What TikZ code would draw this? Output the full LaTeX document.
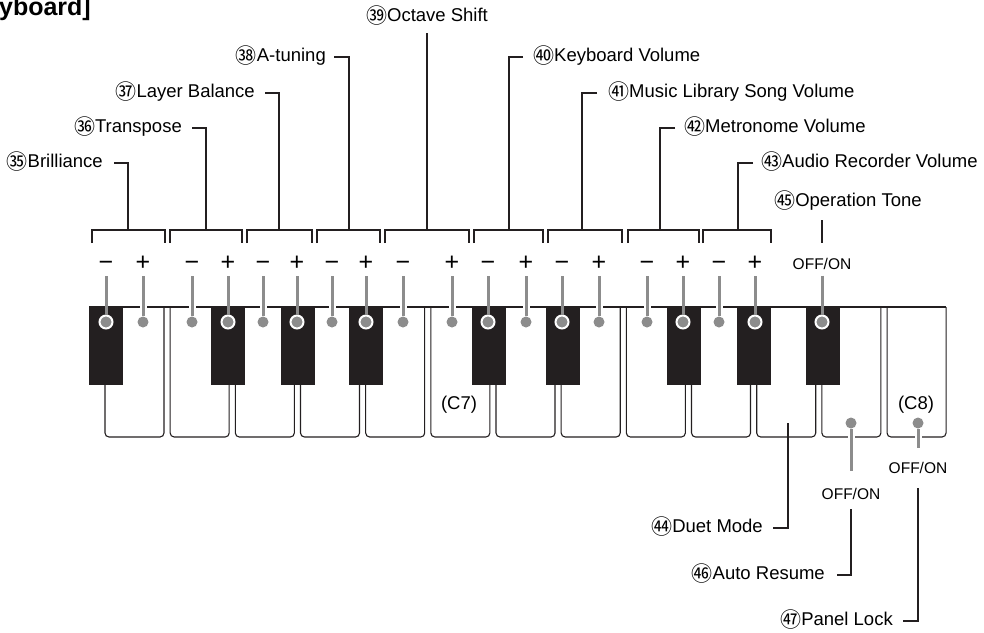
\documentclass[tikz,border=0pt]{standalone}
\usepackage{fontspec}
\setmainfont{Liberation Sans}
\newfontfamily\circfont{Noto Sans CJK JP}
\usepackage{tikz}
\usetikzlibrary{calc,positioning}
\definecolor{inkx}{HTML}{231F20}
\definecolor{grayx}{HTML}{8C8C8C}
\newcommand{\cnum}[1]{\raisebox{-1.5pt}{\circfont\fontsize{21}{21}\selectfont #1}}
\tikzset{
  wk/.style={draw=inkx,line width=1.1pt,rounded corners=4pt},
  bk/.style={fill=inkx},
  lead/.style={draw=inkx,line width=1.3pt},
  gl/.style={draw=grayx,line width=3pt},
  glw/.style={gl,preaction={draw=white,line width=7pt}},
  dw/.style={circle,fill=grayx,minimum size=11pt,inner sep=0pt},
  db/.style={circle,fill=grayx,draw=white,line width=2pt,minimum size=13pt,inner sep=0pt},
  lbl/.style={inner sep=0pt,font=\fontsize{18.5}{20}\selectfont,text height=13pt,text depth=4pt},
  sg/.style={inner sep=0pt,font=\fontsize{25}{25}\selectfont,text height=17pt,text depth=0pt},
  oo/.style={inner sep=2pt,font=\fontsize{15.5}{16}\selectfont,text height=11pt,text depth=0pt}
}
\begin{document}
\begin{tikzpicture}[x=1pt,y=-1pt]
\useasboundingbox (0,0) rectangle (984,632);
\node[font=\fontsize{25}{25}\selectfont\bfseries,anchor=base east,inner sep=0pt] (ttl) at (91,15) {[Keyboard]};
\foreach \k in {0,...,12}{\draw[wk] ({105+65.17*\k},307) -- ({105+65.17*\k},437) -- ({164+65.17*\k},437) -- ({164+65.17*\k},307);}
\draw[wk] (89,307) -- (946,307);
\foreach \x in {89,211,281,349,472,546,667,737,806}{\fill[bk] (\x,307) rectangle ++(34,78);}
\foreach \n/\x/\t in {1/106/−,2/143/+,3/192/−,4/228/+,5/263/−,6/297/+,7/332/−,8/366/+,9/403/−,10/452/+,11/488/−,12/526/+,13/562/−,14/599/+,15/647/−,16/683/+,17/719/−,18/755/+}{\node[sg] (s\n) at (\x,262) {\t};}
\node[oo] (s19) at (822,264) {OFF/ON};
\foreach \n/\x in {2/143,3/192,5/263,7/332,9/403,10/452,12/526,14/599,15/647,17/719}{\node[dw] (d\n) at (\x,322) {};}
\foreach \n/\x in {1/106,4/228,6/297,8/366,11/488,13/562,16/683,18/755,19/822}{\node[db] (d\n) at (\x,322) {};}
\foreach \n in {2,3,5,7,9,10,12,14,15,17}{\draw[glw,shorten <=5.5pt] (s\n.south) -- (d\n);}
\foreach \n in {1,4,6,8,11,13,16,18}{\draw[gl,shorten <=5.5pt] (s\n.south) -- (d\n);}
\draw[gl,shorten <=4pt] (s19.south) -- (d19);
\foreach \n/\a/\b/\m in {1/92/165/128,2/170/242/206,3/247/312/279,4/317/380/349,5/385/469/427,6/474/543/509,7/548/622/582,8/628/699/660,9/703/771/738}{\draw[lead] (\a,243) -- (\a,230) -- (\b,230) -- (\b,243); \coordinate (b\n) at (\m,230);}
\node[lbl,anchor=east] (l35) at (103,163) {\cnum{㉟}Brilliance};
\node[lbl,anchor=east] (l36) at (182,128) {\cnum{㊱}Transpose};
\node[lbl,anchor=east] (l37) at (255,93) {\cnum{㊲}Layer Balance};
\node[lbl,anchor=east] (l38) at (326,57) {\cnum{㊳}A-tuning};
\node[lbl] (l39) at (427,17) {\cnum{㊴}Octave Shift};
\node[lbl,anchor=west] (l40) at (533,57) {\cnum{㊵}Keyboard Volume};
\node[lbl,anchor=west] (l41) at (608,93) {\cnum{㊶}Music Library Song Volume};
\node[lbl,anchor=west] (l42) at (684,128) {\cnum{㊷}Metronome Volume};
\node[lbl,anchor=west] (l43) at (761,163) {\cnum{㊸}Audio Recorder Volume};
\node[lbl] (l45) at (848,202) {\cnum{㊺}Operation Tone};
\draw[lead] ([xshift=11pt]l35.east) -| (b1);
\draw[lead] ([xshift=10pt]l36.east) -| (b2);
\draw[lead] ([xshift=10pt]l37.east) -| (b3);
\draw[lead] ([xshift=8pt]l38.east) -| (b4);
\draw[lead,shorten >=7.5pt] (b5) -- (l39.south);
\draw[lead] ([xshift=-10pt]l40.west) -| (b6);
\draw[lead] ([xshift=-11pt]l41.west) -| (b7);
\draw[lead] ([xshift=-9pt]l42.west) -| (b8);
\draw[lead] ([xshift=-8pt]l43.west) -| (b9);
\draw[lead,shorten <=13.5pt,shorten >=9.5pt] (s19.north) -- (s19.north |- l45.south);
\node[lbl] (c7) at (459,405) {(C7)};
\node[lbl] (c8) at (916,405) {(C8)};
\coordinate (c44) at (788,423);
\node[lbl,anchor=east] (l44) at (763,528) {\cnum{㊹}Duet Mode};
\draw[lead] (c44) |- ([xshift=10pt]l44.east);
\node[dw] (d20) at (851,423) {};
\node[oo] (s20) at (851,494) {OFF/ON};
\node[lbl,anchor=east] (l46) at (825,575) {\cnum{㊻}Auto Resume};
\draw[glw,shorten >=15.5pt] (d20) -- (s20.north);
\draw[lead,shorten <=7.5pt] (s20.south) |- ([xshift=12pt]l46.east);
\node[dw] (d21) at (918,423) {};
\node[oo] (s21) at (918,468) {OFF/ON};
\node[lbl,anchor=east] (l47) at (893,621) {\cnum{㊼}Panel Lock};
\draw[glw,shorten >=12.5pt] (d21) -- (s21.north);
\draw[lead,shorten <=12.5pt] (s21.south) |- ([xshift=10pt]l47.east);
\end{tikzpicture}
\end{document}
